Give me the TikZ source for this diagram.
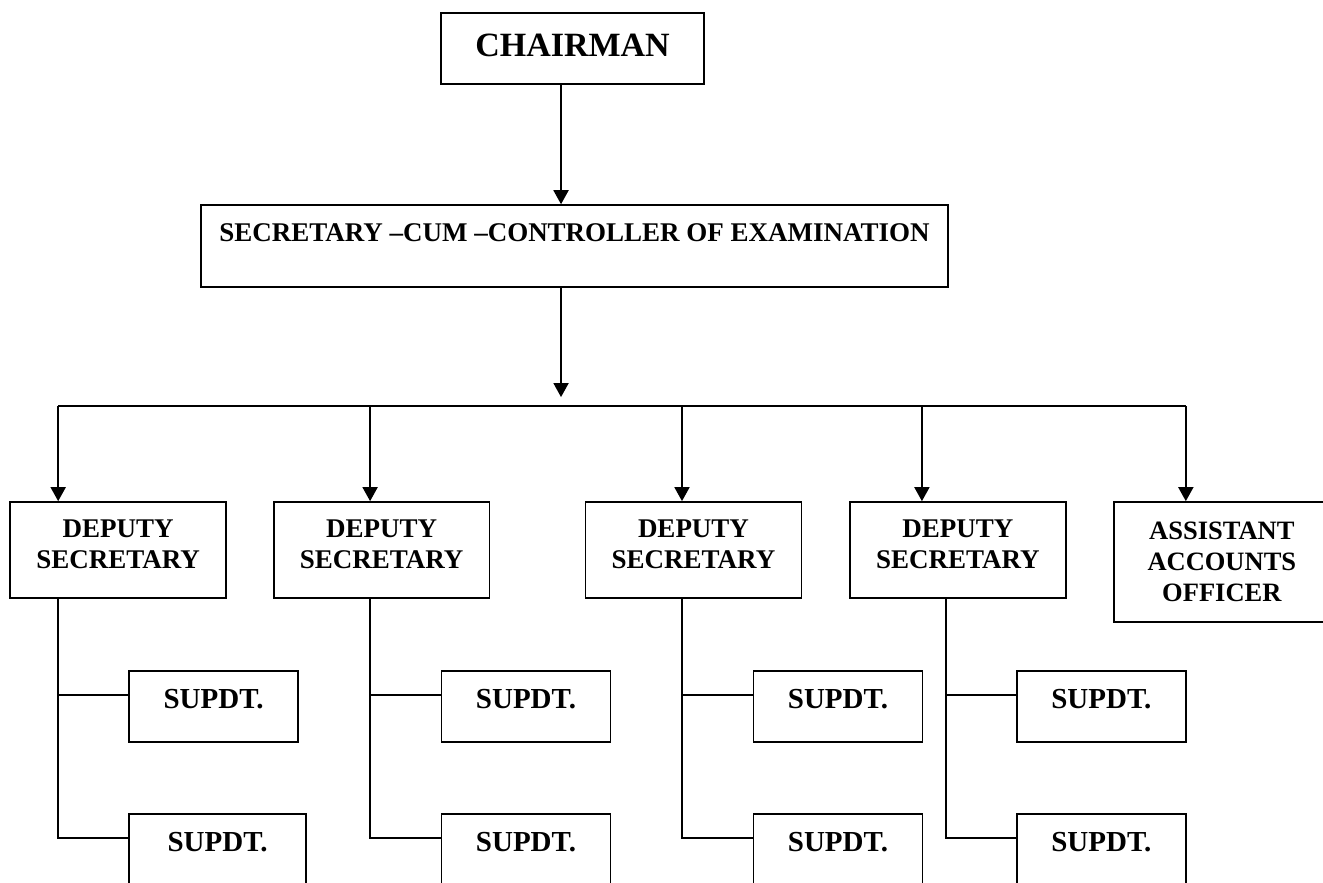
\documentclass[tikz,border=0pt]{standalone}
\usepackage{fontspec}
\setmainfont{Liberation Serif}
\usetikzlibrary{arrows.meta}

\begin{document}
\begin{tikzpicture}[x=1pt,y=-1pt,
	post/.style={draw=black, line width=1.8pt, fill=white, inner sep=0pt, align=center},
	link/.style={draw=black, line width=1.8pt},
	arr/.style={link, -{Triangle[length=14pt,width=15pt]}},
	head/.style={font=\bfseries\fontsize{34}{40}\selectfont},
	mid/.style={font=\bfseries\fontsize{27}{31}\selectfont},
	low/.style={font=\bfseries\fontsize{29}{34}\selectfont}]

	%Background
	\draw[draw=white, fill=white] (0,0) rectangle (1323,882);
	\useasboundingbox (0,0) rectangle (1323,882);

	%Top
	\node[post, head, minimum width=263pt, minimum height=71pt, text depth=7pt] (chair) at (572.5,48.5) {CHAIRMAN};
	\node[post, mid, minimum width=747pt, minimum height=82pt, text depth=28pt] (secy) at (574.5,246) {SECRETARY –CUM –CONTROLLER OF EXAMINATION};

	%Deputies
	\node[post, mid, minimum width=216pt, minimum height=96pt, text depth=11pt] (dep1) at (118,550) {DEPUTY\\SECRETARY};
	\node[post, mid, minimum width=216pt, minimum height=96pt, text depth=11pt] (dep2) at (381.5,550) {DEPUTY\\SECRETARY};
	\node[post, mid, minimum width=216pt, minimum height=96pt, text depth=11pt] (dep3) at (693.5,550) {DEPUTY\\SECRETARY};
	\node[post, mid, minimum width=216pt, minimum height=96pt, text depth=11pt] (dep4) at (958,550) {DEPUTY\\SECRETARY};
	\node[post, font=\bfseries\fontsize{26.5}{31}\selectfont, minimum width=216pt, minimum height=120pt] (asst) at (1222,562) {ASSISTANT\\ACCOUNTS\\OFFICER};

	%Supdts
	\node[post, low, minimum width=169pt, minimum height=71pt, text depth=15pt] (sup11) at (213.5,706.5) {SUPDT.};
	\node[post, low, minimum width=177pt, minimum height=71pt, text depth=15pt] (sup12) at (217.5,849.5) {SUPDT.};
	\node[post, low, minimum width=169pt, minimum height=71pt, text depth=15pt] (sup21) at (526,706.5) {SUPDT.};
	\node[post, low, minimum width=169pt, minimum height=71pt, text depth=15pt] (sup22) at (526,849.5) {SUPDT.};
	\node[post, low, minimum width=169pt, minimum height=71pt, text depth=15pt] (sup31) at (838,706.5) {SUPDT.};
	\node[post, low, minimum width=169pt, minimum height=71pt, text depth=15pt] (sup32) at (838,849.5) {SUPDT.};
	\node[post, low, minimum width=169pt, minimum height=71pt, text depth=15pt] (sup41) at (1101.5,706.5) {SUPDT.};
	\node[post, low, minimum width=169pt, minimum height=71pt, text depth=15pt] (sup42) at (1101.5,849.5) {SUPDT.};

	%Bus
	\coordinate (hub) at (561,397);
	\coordinate (bus1) at (58,406);
	\coordinate (bus2) at (370,406);
	\coordinate (bus3) at (682,406);
	\coordinate (bus4) at (922,406);
	\coordinate (bus5) at (1186,406);
	\draw[link] (bus1) -- (bus5);

	%Arrows
	\draw[arr] (chair.south -| hub) -- (secy.north -| hub);
	\draw[arr] (secy.south -| hub) -- (hub);
	\draw[arr] (bus1) -- (bus1 |- dep1.north);
	\draw[arr] (bus2) -- (bus2 |- dep2.north);
	\draw[arr] (bus3) -- (bus3 |- dep3.north);
	\draw[arr] (bus4) -- (bus4 |- dep4.north);
	\draw[arr] (bus5) -- (bus5 |- asst.north);

	%Branches
	\coordinate (stem4) at ([xshift=-12pt]dep4.south);
	\coordinate (c11) at ([yshift=11.5pt]sup11.west);
	\coordinate (c12) at ([yshift=11.5pt]sup12.west);
	\coordinate (c21) at ([yshift=11.5pt]sup21.west);
	\coordinate (c22) at ([yshift=11.5pt]sup22.west);
	\coordinate (c31) at ([yshift=11.5pt]sup31.west);
	\coordinate (c32) at ([yshift=11.5pt]sup32.west);
	\coordinate (c41) at ([yshift=11.5pt]sup41.west);
	\coordinate (c42) at ([yshift=11.5pt]sup42.west);

	\draw[link] (dep1.south -| bus1) |- (c12);
	\draw[link] (c11) -- (c11 -| bus1);
	\draw[link] (dep2.south -| bus2) |- (c22);
	\draw[link] (c21) -- (c21 -| bus2);
	\draw[link] (dep3.south -| bus3) |- (c32);
	\draw[link] (c31) -- (c31 -| bus3);
	\draw[link] (stem4) |- (c42);
	\draw[link] (c41) -- (c41 -| stem4);

\end{tikzpicture}
\end{document}
